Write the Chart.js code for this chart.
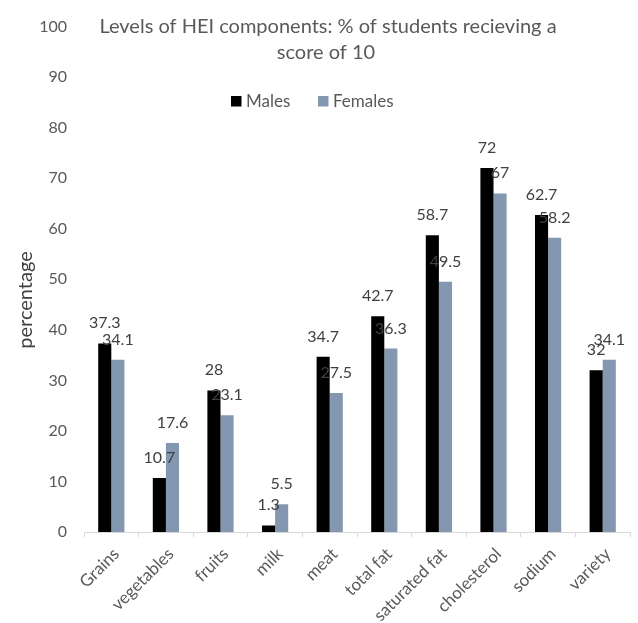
<!DOCTYPE html>
<html>
<head>
<meta charset="utf-8">
<script src="https://cdn.jsdelivr.net/npm/chart.js@4/dist/chart.umd.min.js"></script>
<style>
  html, body { margin: 0; padding: 0; background: #fff; }
  #wrap { width: 638px; height: 623px; position: relative; }
</style>
</head>
<body>
<div id="wrap"><canvas id="hei"></canvas></div>
<script>
// 항목 / 값
const components = ["Grains", "vegetables", "fruits", "milk", "meat", "total fat",
  "saturated fat", "cholesterol", "sodium", "variety"];
const males = [37.3, 10.7, 28, 1.3, 34.7, 42.7, 58.7, 72, 62.7, 32];
const females = [34.1, 17.6, 23.1, 5.5, 27.5, 36.3, 49.5, 67, 58.2, 34.1];
const yTicks = [0, 10, 20, 30, 40, 50, 60, 70, 80, 90, 100];

const FONT = "Lato, 'Open Sans', sans-serif";
const GREY_TEXT = "#595959";
const MALE_COL = "#000000";
const FEMALE_COL = "#8497B0";

// 제목, 범례, 축 제목, 값 라벨
const decor = {
  id: "decor",
  afterDatasetsDraw(chart) {
    const ctx = chart.ctx;
    ctx.save();

    // 값 라벨 (막대 위)
    ctx.font = "16px " + FONT;
    ctx.fillStyle = "#404040";
    ctx.textAlign = "center";
    ctx.textBaseline = "alphabetic";
    chart.data.datasets.forEach((ds, di) => {
      chart.getDatasetMeta(di).data.forEach((bar, i) => {
        ctx.fillText(String(ds.data[i]), bar.x, bar.y - 15);
      });
    });

    // 제목
    ctx.fillStyle = GREY_TEXT;
    ctx.font = "20px " + FONT;
    ctx.textBaseline = "middle";
    ctx.fillText("Levels of HEI components: % of students recieving a", 328, 27);
    ctx.fillText("score of 10", 326, 53);

    // 범례
    ctx.font = "17px " + FONT;
    ctx.textAlign = "left";
    ctx.fillStyle = MALE_COL;
    ctx.fillRect(231, 96, 10.5, 10.5);
    ctx.fillStyle = GREY_TEXT;
    ctx.fillText("Males", 246, 101.5);
    ctx.fillStyle = FEMALE_COL;
    ctx.fillRect(318, 96, 10.5, 10.5);
    ctx.fillStyle = GREY_TEXT;
    ctx.fillText("Females", 333, 101.5);

    // y축 제목
    ctx.translate(26, 300);
    ctx.rotate(-Math.PI / 2);
    ctx.textAlign = "center";
    ctx.fillStyle = "#404040";
    ctx.font = "20px " + FONT;
    ctx.fillText("percentage", 0, 0);
    ctx.restore();
  }
};

new Chart(document.getElementById("hei"), {
  type: "bar",
  data: {
    labels: components,
    datasets: [
      { label: "Males", data: males, backgroundColor: MALE_COL },
      { label: "Females", data: females, backgroundColor: FEMALE_COL }
    ]
  },
  options: {
    responsive: true,
    maintainAspectRatio: false,
    animation: false,
    devicePixelRatio: 1,
    layout: { padding: { top: 20, right: 8, left: 0, bottom: 0 } },
    datasets: { bar: { categoryPercentage: 0.48, barPercentage: 1 } },
    plugins: { legend: { display: false }, title: { display: false }, tooltip: { enabled: false } },
    scales: {
      x: {
        grid: { drawOnChartArea: false, drawTicks: true, tickLength: 5, color: "#D9D9D9", offset: true },
        border: { color: "#D9D9D9", width: 1 },
        ticks: { maxRotation: 45, minRotation: 45, autoSkip: false, color: GREY_TEXT, font: { family: FONT, size: 17 }, padding: 7, labelOffset: 5 },
        afterFit(s) { s.height = 91; }
      },
      y: {
        min: 0, max: 100,
        grid: { display: false, drawTicks: false },
        border: { display: false },
        afterBuildTicks(s) { s.ticks = yTicks.map(v => ({ value: v })); },
        ticks: { color: GREY_TEXT, font: { family: FONT, size: 16 }, padding: 17 },
        afterFit(s) { s.width = 84; }
      }
    }
  },
  plugins: [decor]
});
</script>
</body>
</html>
